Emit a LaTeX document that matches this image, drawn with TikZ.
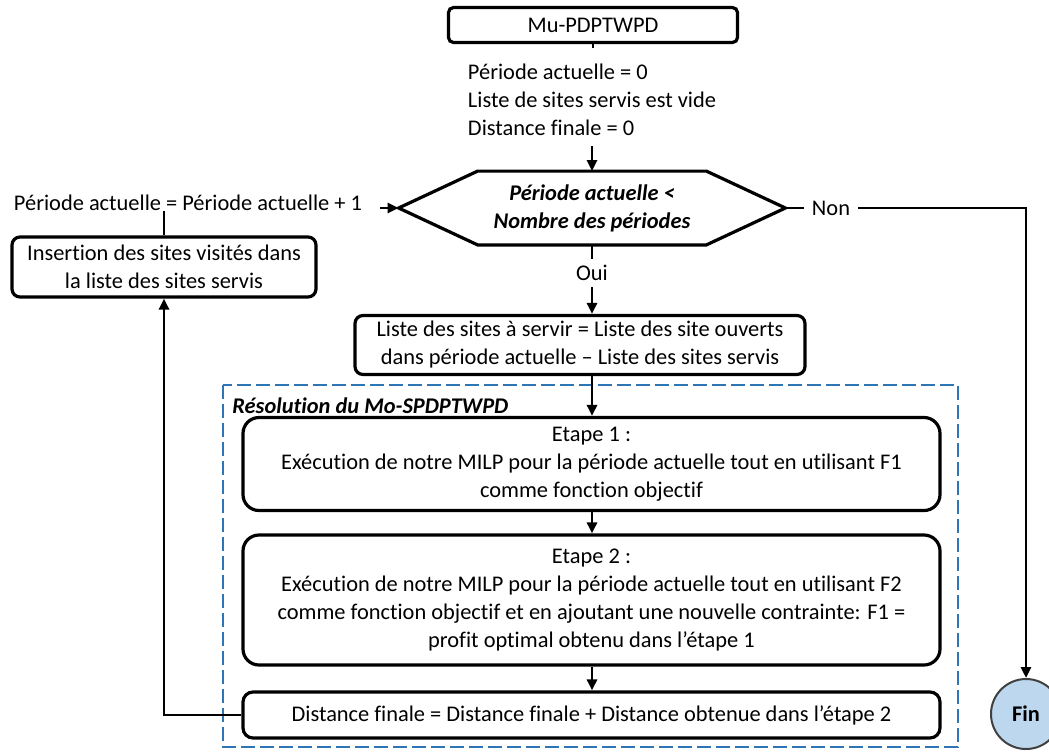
\documentclass[tikz,border=0pt]{standalone}
\usepackage{fontspec}
\setmainfont{Carlito}[Ligatures=NoCommon]
\usepackage{xcolor}
\usepackage{tikz}
\usetikzlibrary{arrows.meta,positioning}
\definecolor{bleucadre}{HTML}{2E75B6}
\definecolor{finbleu}{HTML}{BDD7EE}

\begin{document}
\begin{tikzpicture}[x=0.5pt, y=-0.5pt,
  every node/.style={font=\fontsize{11.2}{14}\selectfont},
  box/.style={draw, line width=1.6pt, rounded corners=#1, align=center,
              inner sep=2pt},
  box/.default=4pt,
  txt/.style={align=left, inner sep=0pt},
  lien/.style={line width=1.4pt},
  fleche/.style={line width=1.4pt, -{Triangle[length=5.5pt,width=5pt]}},
  cadre/.style={draw=bleucadre, line width=1.3pt, dash pattern=on 7pt off 2.5pt},
]
\useasboundingbox (0,0) rectangle (1049,751);

% Début
\node[box=2.5pt, minimum width=144.5pt, minimum height=17.5pt] (start) at (593,25) {Mu-PDPTWPD};
\node[txt] (init) at (592,100) {Période actuelle = 0\\Liste de sites servis est vide\\Distance finale = 0};
\draw[lien] (start.south) -- ++(0,4);

% Condition sur les périodes
\node[minimum width=193pt, minimum height=36.5pt, align=center,
      font=\fontsize{11.2}{14}\selectfont\bfseries\itshape] (cond) at (592,208)
  {Période actuelle <\\Nombre des périodes};
\draw[line width=1.6pt] (cond.west) -- ([xshift=39.5pt]cond.north west)
  -- ([xshift=-39.5pt]cond.north east) -- (cond.east)
  -- ([xshift=-39.5pt]cond.south east) -- ([xshift=39.5pt]cond.south west) -- cycle;
\draw[fleche, shorten <=5pt] (init.south) -- (cond.north);

% Boucle à gauche
\node[txt] (incr) at (188,203) {Période actuelle = Période actuelle + 1};
\node[box=4pt, minimum width=152pt, minimum height=30pt] (insert) at (164,267)
  {Insertion des sites visités dans\\la liste des sites servis};
\draw[fleche, shorten <=9pt] (incr.east |- cond.west) -- (cond.west);
\draw[lien] (insert.north) -- (insert.north |- incr.south);

% Sortie
\node[inner sep=4pt] (non) at (831,208) {Non};
\node[circle, draw=black!75, line width=1pt, fill=finbleu, minimum size=35pt,
      inner sep=0pt, font=\fontsize{11.2}{14}\selectfont\bfseries] (fin) at (1026,714) {Fin};
\draw[lien] (cond.east) -- (non.west);
\draw[fleche] (non.east) -| (fin.north);

% Oui
\node[inner sep=3pt] (oui) at (592,273) {Oui};
\node[box=4pt, minimum width=225pt, minimum height=29.5pt] (list) at (580,345)
  {Liste des sites à servir = Liste des site ouverts\\dans période actuelle -- Liste des sites servis};
\draw[lien] (cond.south) -- (oui.north);
\draw[fleche] (oui.south) -- (oui.south |- list.north);

% Résolution du Mo-SPDPTWPD
\draw[cadre] (223,385) rectangle (958,747);
\node[anchor=west, inner sep=1pt, font=\fontsize{11.2}{14}\selectfont\bfseries\itshape]
  (reso) at (230,406) {Résolution du Mo-SPDPTWPD};

\node[box=8pt, minimum width=348.5pt, minimum height=46.5pt] (step1) at (591.5,464)
  {Etape 1 :\\Exécution de notre MILP pour la période actuelle tout en utilisant F1\\comme fonction objectif};
\node[box=8pt, minimum width=348.5pt, minimum height=65pt] (step2) at (591.5,600)
  {Etape 2 :\\Exécution de notre MILP pour la période actuelle tout en utilisant F2\\comme fonction objectif et en ajoutant une nouvelle contrainte: F1 =\\profit optimal obtenu dans l’étape 1};
\node[box=5pt, minimum width=348.5pt, minimum height=23pt] (dist) at (591.5,715)
  {Distance finale = Distance finale + Distance obtenue dans l’étape 2};

\draw[fleche] (oui.south |- list.south) -- (oui.south |- step1.north);
\draw[fleche] (oui.south |- step1.south) -- (oui.south |- step2.north);
\draw[fleche] (oui.south |- step2.south) -- (oui.south |- dist.north);
\draw[fleche] (dist.west) -| (insert.south);
\end{tikzpicture}
\end{document}
